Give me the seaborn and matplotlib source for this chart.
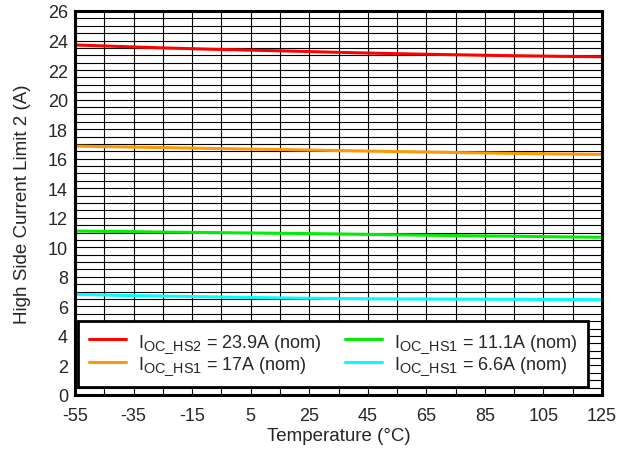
import numpy as np
import pandas as pd
import matplotlib
matplotlib.use("Agg")
import matplotlib.pyplot as plt
import matplotlib._mathtext as _mt
from matplotlib.ticker import MultipleLocator, FixedLocator
import seaborn as sns

temps = [-55, -40, -25, -10, 5, 20, 35, 50, 65, 80, 95, 110, 125]
red = [23.7, 23.6, 23.5, 23.42, 23.35, 23.28, 23.2, 23.13, 23.07, 23.02, 22.97, 22.93, 22.9]
orange = [16.85, 16.8, 16.75, 16.7, 16.65, 16.6, 16.55, 16.5, 16.45, 16.4, 16.36, 16.32, 16.29]
green = [11.1, 11.07, 11.03, 11.0, 10.97, 10.94, 10.9, 10.86, 10.82, 10.78, 10.75, 10.71, 10.68]
cyan = [6.82, 6.75, 6.7, 6.65, 6.6, 6.56, 6.53, 6.51, 6.5, 6.49, 6.48, 6.47, 6.45]

labels = [r"I$_{\mathregular{OC\_HS2}}$ = 23.9A (nom)",
          r"I$_{\mathregular{OC\_HS1}}$ = 17A (nom)",
          r"I$_{\mathregular{OC\_HS1}}$ = 11.1A (nom)",
          r"I$_{\mathregular{OC\_HS1}}$ = 6.6A (nom)"]
colors = ["#ff0000", "#ff9900", "#00ee00", "#00ffff"]
xticks = [-55, -35, -15, 5, 25, 45, 65, 85, 105, 125]

# larger subscripts, as in the reference
_mt.SHRINK_FACTOR = 0.8

sns.set_style("white")
plt.rcParams["font.family"] = ["Liberation Sans", "DejaVu Sans"]
plt.rcParams["mathtext.fontset"] = "custom"
plt.rcParams["mathtext.rm"] = "Liberation Sans"
plt.rcParams["axes.unicode_minus"] = False

rows = []
for lab, vals in zip(labels, [red, orange, green, cyan]):
    for t, v in zip(temps, vals):
        rows.append({"T": t, "I": v, "series": lab})
df = pd.DataFrame(rows)

fig = plt.figure(figsize=(6.18, 4.56), dpi=100)
ax = fig.add_axes([0.1214, 0.1316, 0.8527, 0.8421])

ax.set_xlim(-55, 125)
ax.set_ylim(0, 26)
ax.xaxis.set_major_locator(FixedLocator(xticks))
ax.xaxis.set_minor_locator(MultipleLocator(10, offset=5))
ax.yaxis.set_major_locator(MultipleLocator(2))
ax.yaxis.set_minor_locator(MultipleLocator(0.5))
ax.grid(which="both", color="black", linewidth=0.8)
ax.set_axisbelow(True)

sns.lineplot(data=df, x="T", y="I", hue="series", palette=colors,
             linewidth=2.2, ax=ax, legend=True)

ax.tick_params(which="both", length=0, labelsize=13, pad=5)
ax.tick_params(axis="x", pad=9)
for s in ax.spines.values():
    s.set_linewidth(2.2)
    s.set_color("black")

ax.set_xlabel("Temperature (°C)", fontsize=13.5, labelpad=2)
ax.set_ylabel("High Side Current Limit 2 (A)", fontsize=13.5, labelpad=12)

handles, labs = ax.get_legend_handles_labels()
leg = ax.legend(handles, labs, ncol=2, loc="lower left",
                bbox_to_anchor=(0.0057, 0.021),
                borderaxespad=0, fontsize=13, frameon=True, fancybox=False,
                framealpha=1, edgecolor="black", handlelength=2.05,
                handletextpad=0.65, borderpad=0.6, labelspacing=0.02,
                columnspacing=1.3)
leg.get_frame().set_linewidth(2.0)
for h in leg.get_lines():
    h.set_linewidth(2.2)

fig.savefig("out.png", dpi=100)
